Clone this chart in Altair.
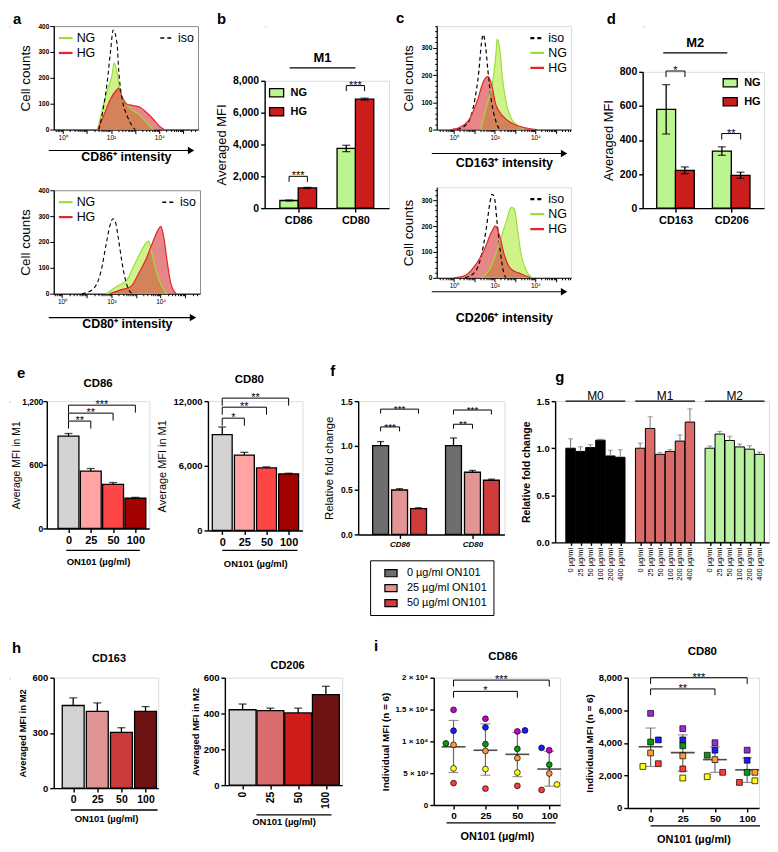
import math
import altair as alt
import pandas as pd

FONT = "Liberation Sans"

# ---------------- colours ----------------
NG_FILL, NG_LINE = "#cdf283", "#9bde3c"
HG_FILL, HG_LINE = "#d73b3b", "#e2262b"
NG_BAR, HG_BAR = "#baf590", "#cc1d1d"

# ---------------- a : histograms (x = log10 intensity) ----------------
A1_ISO_X = [1.5, 1.7, 1.84, 1.98, 2.09, 2.25, 2.32, 2.46, 2.66, 2.86, 3.0]
A1_ISO_Y = [0, 93, 182, 303, 385, 331, 227, 118, 55, 16, 0]
A1_NG_X = [1.45, 1.68, 1.84, 2.04, 2.13, 2.24, 2.38, 2.59, 2.86, 3.2, 3.47, 3.75]
A1_NG_Y = [0, 93, 150, 210, 258, 226, 145, 105, 78, 55, 27, 0]
A1_HG_X = [1.45, 1.7, 1.98, 2.22, 2.31, 2.46, 2.66, 2.93, 3.2, 3.47, 3.75, 4.0, 4.2]
A1_HG_Y = [0, 55, 118, 152, 160, 125, 98, 93, 86, 66, 40, 13, 0]

A2_ISO_X = [0.8, 1.22, 1.57, 1.79, 1.93, 2.07, 2.18, 2.28, 2.43, 2.57, 2.71, 2.85]
A2_ISO_Y = [0, 15, 83, 192, 259, 290, 272, 217, 122, 54, 14, 0]
A2_NG_X = [1.79, 2.2, 2.64, 2.92, 3.2, 3.42, 3.52, 3.63, 3.84, 4.06, 4.27]
A2_NG_Y = [0, 27, 54, 109, 163, 197, 204, 163, 82, 27, 0]
A2_HG_X = [1.93, 2.35, 2.78, 3.13, 3.42, 3.7, 3.89, 4.01, 4.13, 4.27, 4.41, 4.63]
A2_HG_Y = [0, 14, 27, 82, 136, 204, 245, 260, 218, 122, 41, 0]

# ---------------- c : histograms ----------------
C1_ISO_X = [0.16, 0.66, 0.99, 1.23, 1.35, 1.44, 1.56, 1.67, 1.84, 2.05, 2.22, 2.3]
C1_ISO_Y = [0, 22, 95, 217, 315, 349, 303, 217, 107, 34, 4, 0]
C1_NG_X = [1.31, 1.64, 1.89, 2.05, 2.13, 2.26, 2.38, 2.55, 2.79, 3.12, 3.45]
C1_NG_Y = [0, 95, 168, 266, 331, 290, 193, 107, 46, 15, 0]
C1_HG_X = [-0.16, 0.33, 0.82, 1.15, 1.48, 1.67, 1.84, 2.05, 2.3, 2.63, 3.12, 3.6, 4.1]
C1_HG_Y = [0, 10, 46, 107, 181, 195, 168, 95, 59, 34, 15, 5, 0]

C2_ISO_X = [0.55, 1.03, 1.35, 1.59, 1.75, 1.88, 1.99, 2.12, 2.28, 2.44, 2.55]
C2_ISO_Y = [0, 22, 87, 190, 280, 323, 310, 215, 100, 22, 0]
C2_NG_X = [1.35, 1.84, 2.24, 2.56, 2.83, 2.96, 3.12, 3.28, 3.52, 3.85]
C2_NG_Y = [0, 47, 137, 215, 272, 266, 189, 100, 35, 0]
C2_HG_X = [0.0, 0.55, 1.03, 1.51, 1.84, 2.04, 2.24, 2.48, 2.8, 3.28, 3.77]
C2_HG_Y = [0, 9, 47, 112, 176, 200, 164, 87, 35, 16, 0]

# ---------------- b / d : NG vs HG bars ----------------
B_MARKERS = ["CD86", "CD80"]
B_NG = [480, 3750]
B_NG_ERR = [30, 200]
B_HG = [1270, 6850]
B_HG_ERR = [35, 60]
B_SIG = ["***", "***"]
B_SIG_Y = [2000, 7700]

D_MARKERS = ["CD163", "CD206"]
D_NG = [580, 335]
D_NG_ERR = [145, 25]
D_HG = [222, 193]
D_HG_ERR = [20, 18]
D_SIG = ["*", "**"]
D_SIG_Y = [805, 438]

# ---------------- e : M1 MFI vs ON101 ----------------
E_DOSES = ["0", "25", "50", "100"]
E_COLORS = ["#d3d3d3", "#ffa3a3", "#ff4646", "#a30000"]
E_CD86 = [870, 540, 415, 285]
E_CD86_ERR = [25, 25, 18, 8]
E_CD86_SIG_TO = [1, 2, 3]
E_CD86_SIG_Y = [1012, 1087, 1162]
E_CD86_SIG = ["**", "**", "***"]
E_CD80 = [8900, 7000, 5800, 5250]
E_CD80_ERR = [700, 250, 100, 60]
E_CD80_SIG_TO = [1, 2, 3]
E_CD80_SIG_Y = [10420, 11440, 12280]
E_CD80_SIG = ["*", "**", "**"]

# ---------------- f : relative fold change ----------------
F_GENES = ["CD86", "CD80"]
F_DOSES = ["0 µg/ml ON101", "25 µg/ml ON101", "50 µg/ml ON101"]
F_COLORS = ["#6e6e6e", "#e39595", "#d03b3b"]
F_CD86 = [1.0, 0.5, 0.29]
F_CD86_ERR = [0.045, 0.015, 0.01]
F_CD80 = [1.0, 0.7, 0.61]
F_CD80_ERR = [0.085, 0.02, 0.012]
F_CD86_SIG = ["***", "***"]
F_CD86_SIG_Y = [1.21, 1.41]
F_CD80_SIG = ["**", "***"]
F_CD80_SIG_Y = [1.24, 1.40]

# ---------------- g : M0 / M1 / M2 fold change ----------------
G_GROUPS = ["M0", "M1", "M2"]
G_DOSES = ["0 µg/ml", "25 µg/ml", "50 µg/ml", "100 µg/ml", "200 µg/ml", "400 µg/ml"]
G_COLORS = ["#000000", "#d96b6b", "#b8f2a0"]
G_M0 = [1.0, 0.966, 1.007, 1.086, 0.918, 0.904]
G_M0_ERR = [0.10, 0.05, 0.03, 0.01, 0.06, 0.08]
G_M1 = [1.0, 1.21, 0.935, 0.966, 1.076, 1.278]
G_M1_ERR = [0.055, 0.125, 0.02, 0.02, 0.065, 0.14]
G_M2 = [1.0, 1.151, 1.082, 1.014, 0.99, 0.935]
G_M2_ERR = [0.024, 0.028, 0.045, 0.03, 0.037, 0.024]

# ---------------- h : M2 MFI vs ON101 ----------------
H_DOSES = ["0", "25", "50", "100"]
H1_COLORS = ["#d3d3d3", "#e09595", "#c93b3b", "#6e1313"]
H2_COLORS = ["#d3d3d3", "#d96c6c", "#d11c1c", "#6e1313"]
H_CD163 = [449, 417, 303, 417]
H_CD163_ERR = [41, 46, 25, 26]
H_CD206 = [421, 416, 403, 505]
H_CD206_ERR = [32, 14, 27, 47]

# ---------------- i : individual donors ----------------
I_DOSES = ["0", "25", "50", "100"]
I_DONORS = ["D1", "D2", "D3", "D4", "D5", "D6"]
I1_COLORS = ["#cc00cc", "#1a1aff", "#0a9a0a", "#ff9a3c", "#ffff1a", "#ff3b3b"]
I2_COLORS = ["#9b2bd9", "#1a1aff", "#0a9a0a", "#ff9a3c", "#ffff1a", "#ff3b3b"]
I1_D1 = [14950, 13550, 11560, 8600]
I1_D2 = [11670, 12200, 11720, 8980]
I1_D3 = [9680, 9570, 8820, 6340]
I1_D4 = [9450, 8490, 7370, 4950]
I1_D5 = [5750, 5650, 5110, 3230]
I1_D6 = [3440, 2580, 3010, 2370]
I1_SIDE = [[0, 0, 0, 0], [0, 0, 1, -1], [-1, 0, 0, 0], [0, 0, 0, 0], [0, 0, 0, 1], [0, 0, 0, -1]]
I1_MEAN = [9140, 8600, 7960, 5650]
I1_SD_LO = [5110, 4680, 4460, 2960]
I1_SD_HI = [13280, 12740, 11400, 8440]
I1_SIG = ["*", "***"]
I1_SIG_TO = [2, 3]
I1_SIG_Y = [17850, 19620]
I2_D1 = [5810, 4870, 4010, 3550]
I2_D2 = [4180, 4180, 3550, 2930]
I2_D3 = [4050, 3820, 3240, 2190]
I2_D4 = [3380, 3200, 2970, 2190]
I2_D5 = [2550, 1840, 1920, 1670]
I2_D6 = [2720, 2400, 2190, 1570]
I2_SIDE = [[0, 0, 0, 0], [1, 0, 0, 0], [0, 0, -1, 0], [0, 0, 0, 1], [-1, 0, -1, 1], [1, 0, 1, -1]]
I2_MEAN = [3760, 3400, 2970, 2340]
I2_SD_LO = [2550, 2260, 2190, 1570]
I2_SD_HI = [4910, 4490, 3760, 3070]
I2_SIG = ["**", "***"]
I2_SIG_TO = [2, 3]
I2_SIG_Y = [7310, 8000]

RECT = "M-1,-0.58L1,-0.58L1,0.58L-1,0.58Z"
ONE = pd.DataFrame({"v": [0]})
RES = dict(color="independent", fill="independent", stroke="independent", strokeDash="independent")


# ====================== helpers ======================
def ax(**kw):
    p = dict(domainColor="black", domainWidth=1.4, tickColor="black", tickWidth=1.4, tickSize=4,
             labelColor="black", labelFont=FONT, labelFontWeight="bold", labelFontSize=9,
             titleColor="black", titleFont=FONT, titleFontWeight="normal", titleFontSize=11,
             grid=False, labelFlush=False, labelOverlap=False, labelPadding=2)
    p.update(kw)
    if "values" in p:
        p["tickCount"] = len(p["values"])
    return alt.Axis(**p)


def arr_expr(labels):
    return "[" + ",".join("'%s'" % s for s in labels) + "]"


def cat_ax(labels, **kw):
    return ax(values=list(range(len(labels))), labelExpr=arr_expr(labels) + "[datum.value]", **kw)


def txt(t, x, y, fs=15, weight="bold", align="left"):
    return alt.Chart(pd.DataFrame({"t": [t]})).mark_text(
        fontSize=fs, fontWeight=weight, font=FONT, color="black", align=align, baseline="middle"
    ).encode(x=alt.value(x), y=alt.value(y), text="t:N")


def name(t, x, y, fs=11.5):
    return txt(t, x, y, fs=fs, align="center")


def spacer(w=1, h=1, letter=None):
    sp = alt.Chart(ONE).mark_point(size=0, opacity=0).encode(x=alt.value(0), y=alt.value(0))
    if letter is not None:
        sp = alt.layer(sp, txt(*letter))
    return sp.properties(width=w, height=h)


def hc(a, b, s):
    return alt.hconcat(a, b, spacing=s).resolve_scale(**RES)


def vc(a, b, s):
    return alt.vconcat(a, b, spacing=s).resolve_scale(**RES)


def log_ticks(lo, hi):
    out = []
    for n in range(math.floor(lo), math.ceil(hi) + 1):
        for k in range(1, 10):
            v = round(n + math.log10(k), 4)
            if lo <= v <= hi:
                out.append(v)
    return out


LOG_LABEL = "datum.value == 0 ? '10⁰' : datum.value == 2 ? '10²' : datum.value == 4 ? '10⁴' : ''"
MAJOR = "abs(datum.value - round(datum.value)) < 0.001"


def line_legend(orient, black=False):
    p = dict(title=None, orient=orient, offset=3, padding=1, labelFont=FONT, labelFontSize=12.5,
             labelColor="black", symbolStrokeWidth=2.2, symbolSize=190, rowPadding=0, labelOffset=3)
    if black:
        p["symbolStrokeColor"] = "black"
        p["symbolStrokeWidth"] = 1.5
    return alt.Legend(**p)


def histogram(iso, ng, hg, xdom, ytop, ystep, w, h, xtitle, mode, framed, extra=(), ypad=6,
              agap=21, xpad=11):
    rows = []
    for s, (xs, ys) in (("iso", iso), ("NG", ng), ("HG", hg)):
        rows += [{"s": s, "x": a, "y": b} for a, b in zip(xs, ys)]
    df = pd.DataFrame(rows)
    xv = log_ticks(*xdom)
    yv = list(range(0, ytop + 1, ystep))
    xax = alt.Axis(values=xv, tickCount=len(xv), labelExpr=LOG_LABEL, labelFontSize=6.5, labelFont=FONT,
                   labelColor="black", labelPadding=1, labelOverlap=False, labelFlush=False,
                   tickSize={"condition": {"test": MAJOR, "value": 4}, "value": 2},
                   tickColor="black", domainColor="black", tickWidth=1, domainWidth=1, grid=False,
                   title=xtitle, titleFont=FONT, titleFontSize=12.5, titleFontWeight="bold",
                   titleColor="black", titlePadding=xpad)
    yax = alt.Axis(values=yv, tickCount=len(yv),
                   labelExpr="datum.value % 100 == 0 ? datum.label : ''",
                   labelFontSize=6.5, labelFontWeight="bold", labelFont=FONT, labelColor="black",
                   labelPadding=1, labelOverlap=False,
                   tickSize={"condition": {"test": "datum.value % 100 == 0", "value": 4}, "value": 2},
                   tickColor="black", domainColor="black", tickWidth=1, domainWidth=1.2, grid=False,
                   title="Cell counts", titleFont=FONT, titleFontSize=13.5, titleFontWeight="normal",
                   titleColor="black", titlePadding=ypad)
    base = alt.Chart(df)
    enc = dict(x=alt.X("x:Q", scale=alt.Scale(domain=list(xdom), nice=False, zero=False), axis=xax),
               y=alt.Y("y:Q", scale=alt.Scale(domain=[0, ytop], nice=False), axis=yax))
    ng_area = base.transform_filter("datum.s == 'NG'").mark_area(
        interpolate="monotone", color=NG_FILL, opacity=0.95).encode(**enc)
    hg_area = base.transform_filter("datum.s == 'HG'").mark_area(
        interpolate="monotone", color=HG_FILL, opacity=0.62).encode(x="x:Q", y="y:Q")
    if mode == "split":
        lines = base.transform_filter("datum.s != 'iso'").mark_line(
            interpolate="monotone", strokeWidth=1.2).encode(
            x="x:Q", y="y:Q",
            stroke=alt.Stroke("s:N", scale=alt.Scale(domain=["NG", "HG"], range=[NG_LINE, HG_LINE]),
                              legend=line_legend("top-left")))
        iso_l = base.transform_filter("datum.s == 'iso'").mark_line(
            interpolate="monotone", color="black", strokeWidth=1.1).encode(
            x="x:Q", y="y:Q",
            strokeDash=alt.StrokeDash("s:N", scale=alt.Scale(domain=["iso"], range=[[4, 3]]),
                                      legend=line_legend("top-right", black=True)))
        layers = [ng_area, hg_area, lines, iso_l]
    else:
        dom = ["iso", "NG", "HG"]
        lines = base.mark_line(interpolate="monotone", strokeWidth=1.2).encode(
            x="x:Q", y="y:Q",
            stroke=alt.Stroke("s:N", scale=alt.Scale(domain=dom, range=["black", NG_LINE, HG_LINE]),
                              legend=line_legend("top-right")),
            strokeDash=alt.StrokeDash("s:N", scale=alt.Scale(domain=dom, range=[[4, 3], [1, 0], [1, 0]]),
                                      legend=line_legend("top-right")))
        layers = [ng_area, hg_area, lines]
    arrow = alt.Chart(ONE).mark_rule(color="black", strokeWidth=1.1).encode(
        x=alt.value(-5), x2=alt.value(w - 10), y=alt.value(h + agap))
    head = alt.Chart(ONE).mark_point(shape="triangle-right", filled=True, color="black",
                                     size=55, opacity=1).encode(x=alt.value(w - 7), y=alt.value(h + agap))
    props = dict(width=w, height=h)
    if framed:
        props["view"] = alt.ViewBackground(stroke="#8c8c8c", strokeWidth=1)
    return alt.layer(*layers, arrow, head, *extra).properties(**props)


def grouped_df(n_cats, series, spread):
    rows = []
    k = len(series)
    for ci in range(n_cats):
        for si, (nm, vals, errs) in enumerate(series):
            rows.append({"x": ci + (si - (k - 1) / 2) * spread, "m": vals[ci],
                         "lo": vals[ci] - errs[ci], "hi": vals[ci] + errs[ci], "c": nm})
    return pd.DataFrame(rows)


def single_df(cats, vals, errs):
    return pd.DataFrame({"x": list(range(len(cats))), "m": vals,
                         "lo": [v - e for v, e in zip(vals, errs)],
                         "hi": [v + e for v, e in zip(vals, errs)], "c": cats})


def bar_layers(df, xdom, ydom, xax, yax, color, size, cap, both=False, ecol="black", bw=1.3, ew=1.3):
    x = alt.X("x:Q", scale=alt.Scale(domain=list(xdom), nice=False, zero=False), axis=xax)
    y = alt.Y("m:Q", scale=alt.Scale(domain=list(ydom), nice=False), axis=yax)
    out = [alt.Chart(df).mark_bar(size=size, stroke="black", strokeWidth=bw, orient="vertical").encode(
        x=x, y=y, color=color)]
    out.append(alt.Chart(df).mark_rule(color=ecol, strokeWidth=ew).encode(
        x="x:Q", y=("lo:Q" if both else "m:Q"), y2="hi:Q"))
    out.append(alt.Chart(df).mark_tick(orient="horizontal", size=cap, thickness=ew, color=ecol).encode(
        x="x:Q", y="hi:Q"))
    if both:
        out.append(alt.Chart(df).mark_tick(orient="horizontal", size=cap, thickness=ew, color=ecol).encode(
            x="x:Q", y="lo:Q"))
    return out


def brackets(rows, leg, fs=11):
    pts, labs = [], []
    for k, (x1, x2, y, t) in enumerate(rows):
        for o, (xx, yy) in enumerate(((x1, y - leg), (x1, y), (x2, y), (x2, y - leg))):
            pts.append({"id": k, "o": o, "x": xx, "y": yy})
        labs.append({"x": (x1 + x2) / 2, "y": y, "t": t})
    ln = alt.Chart(pd.DataFrame(pts)).mark_line(color="black", strokeWidth=1).encode(
        x="x:Q", y="y:Q", detail="id:N", order="o:Q")
    tx = alt.Chart(pd.DataFrame(labs)).mark_text(baseline="alphabetic", dy=3, fontSize=fs, font=FONT,
                                                 color="black").encode(x="x:Q", y="y:Q", text="t:N")
    return [ln, tx]


def header(texts, x0s, x1s, y, fs, weight="bold", dy=-3):
    d = pd.DataFrame({"a": x0s, "b": x1s, "y": [y] * len(texts),
                      "c": [(p + q) / 2 for p, q in zip(x0s, x1s)], "t": texts})
    return [alt.Chart(d).mark_rule(color="black", strokeWidth=1.3).encode(x="a:Q", x2="b:Q", y="y:Q"),
            alt.Chart(d).mark_text(baseline="alphabetic", dy=dy, fontSize=fs, fontWeight=weight, font=FONT,
                                   color="black").encode(x="c:Q", y="y:Q", text="t:N")]


def underline(x0, x1, ypx):
    d = pd.DataFrame({"a": [x0], "b": [x1]})
    return alt.Chart(d).mark_rule(color="black", strokeWidth=1.3).encode(x="a:Q", x2="b:Q", y=alt.value(ypx))


def box_legend(orient, fs, **kw):
    p = dict(title=None, orient=orient, labelFont=FONT, labelFontSize=fs, labelFontWeight="bold",
             labelColor="black", symbolType=RECT, symbolSize=200, symbolStrokeColor="black",
             symbolStrokeWidth=1.3, rowPadding=4, padding=0, labelOffset=6)
    p.update(kw)
    return alt.Legend(**p)


# ====================== panels ======================
a1 = histogram((A1_ISO_X, A1_ISO_Y), (A1_NG_X, A1_NG_Y), (A1_HG_X, A1_HG_Y), (-0.37, 5.6), 400, 100,
               145, 104, "CD86⁺ intensity", "split", True, extra=[txt("a", -41, -7)], xpad=10)
a2 = histogram((A2_ISO_X, A2_ISO_Y), (A2_NG_X, A2_NG_Y), (A2_HG_X, A2_HG_Y), (-0.34, 5.6), 400, 100,
               147, 104, "CD80⁺ intensity", "split", True, agap=24, xpad=12)
c1 = histogram((C1_ISO_X, C1_ISO_Y), (C1_NG_X, C1_NG_Y), (C1_HG_X, C1_HG_Y), (-0.84, 5.75), 380, 20,
               135, 104, "CD163⁺ intensity", "stack", False, extra=[txt("c", -41, -8)], agap=24, xpad=16)
c2 = histogram((C2_ISO_X, C2_ISO_Y), (C2_NG_X, C2_NG_Y), (C2_HG_X, C2_HG_Y), (-0.84, 5.75), 350, 20,
               135, 91, "CD206⁺ intensity", "stack", False, agap=14, xpad=22)

# b
b_df = grouped_df(2, [("NG", B_NG, B_NG_ERR), ("HG", B_HG, B_HG_ERR)], 0.32)
b_color = alt.Color("c:N", scale=alt.Scale(domain=["NG", "HG"], range=[NG_BAR, HG_BAR]),
                    legend=box_legend("top-left", 11, offset=4))
b_layers = bar_layers(b_df, (-0.5, 1.5), (0, 8000), cat_ax(B_MARKERS, labelFontSize=11, title=None),
                      ax(values=[0, 2000, 4000, 6000, 8000], format=",.0f", labelFontSize=10.5,
                         title="Averaged MFI", titleFontSize=13, titlePadding=4),
                      b_color, 18.5, 8, both=True)
b_layers += brackets([(i - 0.16, i + 0.16, B_SIG_Y[i], B_SIG[i]) for i in range(2)], 350)
b_layers += header(["M1"], [-0.15], [1.0], 8810, 13, dy=-6)
b = alt.layer(*b_layers).properties(width=125, height=128)

# d
d_df = grouped_df(2, [("NG", D_NG, D_NG_ERR), ("HG", D_HG, D_HG_ERR)], 0.335)
d_color = alt.Color("c:N", scale=alt.Scale(domain=["NG", "HG"], range=[NG_BAR, HG_BAR]),
                    legend=box_legend("top-right", 11, offset=3))
d_layers = bar_layers(d_df, (-0.5, 1.5), (0, 800), cat_ax(D_MARKERS, labelFontSize=11, title=None),
                      ax(values=[0, 200, 400, 600, 800], format=".0f", labelFontSize=10.5,
                         title="Averaged MFI", titleFontSize=13, titlePadding=4),
                      d_color, 19, 8, both=True)
d_layers += brackets([(i - 0.17, i + 0.17, D_SIG_Y[i], D_SIG[i]) for i in range(2)], 35)
d_layers += header(["M2"], [-0.22], [0.93], 911, 13, dy=-6)
d = alt.layer(*d_layers).properties(width=122, height=137)

# e
e_color = alt.Color("c:N", scale=alt.Scale(domain=E_DOSES, range=E_COLORS), legend=None)
on_title = dict(title="ON101 (µg/ml)", titleFontWeight="bold", titleFontSize=9.5)
E1_W, E1_H, E2_W, E2_H = 103, 128, 95, 130
e1_layers = bar_layers(single_df(E_DOSES, E_CD86, E_CD86_ERR), (-0.75, 3.4), (0, 1200),
                       cat_ax(E_DOSES, labelFontSize=11, titlePadding=11, **on_title),
                       ax(values=[0, 600, 1200], format=",.0f", labelFontSize=8.5, labelPadding=0,
                          title="Average MFI in M1", titleFontSize=10.5, titlePadding=0),
                       e_color, 21, 8)
e1_layers += brackets([(0, E_CD86_SIG_TO[i], E_CD86_SIG_Y[i], E_CD86_SIG[i]) for i in range(3)], 70)
e1_layers += [underline(-0.1, 3.2, E1_H + 22), txt("e", -30, -28), name("CD86", E1_W / 2, -17)]
e1 = alt.layer(*e1_layers).properties(width=E1_W, height=E1_H)

e2_layers = bar_layers(single_df(E_DOSES, E_CD80, E_CD80_ERR), (-0.42, 3.4), (0, 12000),
                       cat_ax(E_DOSES, labelFontSize=11, titlePadding=11, **on_title),
                       ax(values=[0, 6000, 12000], format=",.0f", labelFontSize=9.5,
                          title="Average MFI in M1", titlePadding=6),
                       e_color, 20, 8)
e2_layers += brackets([(0, E_CD80_SIG_TO[i], E_CD80_SIG_Y[i], E_CD80_SIG[i]) for i in range(3)], 700)
e2_layers += [underline(0, 3.4, E2_H + 20), name("CD80", E2_W / 2 - 6, -21)]
e2 = alt.layer(*e2_layers).properties(width=E2_W, height=E2_H)

# f
f_df = grouped_df(2, [(F_DOSES[k], [F_CD86[k], F_CD80[k]], [F_CD86_ERR[k], F_CD80_ERR[k]])
                      for k in range(3)], 0.26)
F_W, F_H = 147, 134
f_color = alt.Color("c:N", scale=alt.Scale(domain=F_DOSES, range=F_COLORS),
                    legend=alt.Legend(title=None, orient="none", legendX=12, legendY=F_H + 26,
                                      direction="vertical", strokeColor="black", padding=6,
                                      labelFont=FONT, labelFontSize=11, labelColor="black",
                                      symbolType=RECT, symbolSize=150, symbolStrokeColor="black",
                                      symbolStrokeWidth=1.2, rowPadding=2, labelOffset=9,
                                      symbolOffset=8))
f_layers = bar_layers(f_df, (-0.5, 1.37), (0, 1.5),
                      cat_ax(F_GENES, labelFontSize=8, labelFontStyle="italic", title=None),
                      ax(values=[0, 0.5, 1.0, 1.5], format=".1f", labelFontSize=8.5,
                         title="Relative fold change", titleFontSize=11.5, titlePadding=6),
                      f_color, 16, 7)
f_sig = []
for gi, (sig, ys) in enumerate(((F_CD86_SIG, F_CD86_SIG_Y), (F_CD80_SIG, F_CD80_SIG_Y))):
    for k in range(2):
        f_sig.append((gi - 0.26, gi + k * 0.26, ys[k], sig[k]))
f_layers += brackets(f_sig, 0.05, fs=10)
f_layers += [txt("f", -28, -30)]
f = alt.layer(*f_layers).properties(width=F_W, height=F_H)

# g
g_series = [G_M0, G_M1, G_M2]
g_errs = [G_M0_ERR, G_M1_ERR, G_M2_ERR]
g_rows = []
for gi in range(3):
    for di in range(6):
        v, e = g_series[gi][di], g_errs[gi][di]
        g_rows.append({"x": gi * 7 + di, "m": v, "lo": v - e, "hi": v + e, "c": G_GROUPS[gi]})
g_df = pd.DataFrame(g_rows)
g_color = alt.Color("c:N", scale=alt.Scale(domain=G_GROUPS, range=G_COLORS), legend=None)
g_xax = ax(values=[gi * 7 + di for gi in range(3) for di in range(6)],
           labelExpr=arr_expr(G_DOSES + [""]) + "[datum.value % 7]", labelAngle=270,
           labelFontSize=7.5, labelFontWeight="normal", tickSize=3, title=None)
g_layers = bar_layers(g_df, (-1.05, 19.45), (0, 1.5), g_xax,
                      ax(values=[0, 0.5, 1.0, 1.5], format=".1f", labelFontSize=9.5,
                         title="Relative fold change", titleFontWeight="bold", titleFontSize=10.5,
                         titlePadding=5),
                      g_color, 9.5, 5, ecol="#808080", bw=1, ew=1.1)
g_layers += header(G_GROUPS, [gi * 7 - 0.5 for gi in range(3)], [gi * 7 + 5.5 for gi in range(3)],
                   1.5, 12, weight="normal", dy=-1)
g_layers += [txt("g", 0, -24)]
g = alt.layer(*g_layers).properties(width=215, height=142)

# h
h1_color = alt.Color("c:N", scale=alt.Scale(domain=H_DOSES, range=H1_COLORS), legend=None)
h2_color = alt.Color("c:N", scale=alt.Scale(domain=H_DOSES, range=H2_COLORS), legend=None)
h_on = dict(title="ON101 (µg/ml)", titleFontWeight="bold", titleFontSize=9.5)
H1_W, H1_H, H2_W, H2_H = 105, 111, 118, 108
h1_layers = bar_layers(single_df(H_DOSES, H_CD163, H_CD163_ERR), (-0.6, 3.32), (0, 600),
                       cat_ax(H_DOSES, labelFontSize=10.5, titlePadding=9, **h_on),
                       ax(values=[0, 300, 600], labelFontSize=9.5, title="Averaged MFI in M2",
                          titleFontWeight="bold", titleFontSize=9.5, titlePadding=5),
                       h1_color, 22, 8)
h1_layers += [underline(-0.1, 3.5, H1_H + 22), txt("h", -42, -30), name("CD163", H1_W / 2 + 3, -19, 11)]
h1 = alt.layer(*h1_layers).properties(width=H1_W, height=H1_H)

h2_layers = bar_layers(single_df(H_DOSES, H_CD206, H_CD206_ERR), (-0.46, 3.41), (0, 600),
                       cat_ax(H_DOSES, labelFontSize=10.5, labelAngle=270, titlePadding=8, **h_on),
                       ax(values=[0, 200, 400, 600], labelFontSize=9.5, title="Averaged MFI in M2",
                          titleFontWeight="bold", titleFontSize=9.5, titlePadding=3),
                       h2_color, 27, 8)
h2_layers += [underline(0.5, 3.2, H2_H + 30), name("CD206", H2_W / 2 + 4, -12, 11)]
h2 = alt.layer(*h2_layers).properties(width=H2_W, height=H2_H)


# i
def scatter_panel(donor_vals, sides, colors, mean, lo, hi, shape, xdom, ydom, yax, sig, sig_to, sig_y,
                  leg, w, h, ul, extra):
    rows = []
    for di, vals in enumerate(donor_vals):
        for k, v in enumerate(vals):
            rows.append({"x": k + sides[di][k] * 0.24, "y": v, "donor": I_DONORS[di]})
    pts = pd.DataFrame(rows)
    st = pd.DataFrame({"x": list(range(4)), "m": mean, "lo": lo, "hi": hi})
    x = alt.X("x:Q", scale=alt.Scale(domain=list(xdom), nice=False, zero=False),
              axis=cat_ax(I_DOSES, labelFontSize=10, title="ON101 (µg/ml)", titleFontWeight="bold",
                          titleFontSize=11, titlePadding=10))
    sd = alt.Chart(st).mark_rule(color="#6a6a6a", strokeWidth=1.2).encode(
        x=x, y=alt.Y("lo:Q", scale=alt.Scale(domain=list(ydom), nice=False), axis=yax), y2="hi:Q")
    caps = [alt.Chart(st).mark_tick(orient="horizontal", size=10, thickness=1.2, color="#6a6a6a").encode(
        x="x:Q", y=f"{f}:Q") for f in ("lo", "hi")]
    mtick = alt.Chart(st).mark_tick(orient="horizontal", size=24, thickness=1.6, color="black").encode(
        x="x:Q", y="m:Q")
    p = alt.Chart(pts).mark_point(shape=shape, filled=True, size=34, stroke="black", strokeWidth=0.7,
                                  opacity=1).encode(
        x="x:Q", y="y:Q",
        fill=alt.Fill("donor:N", scale=alt.Scale(domain=I_DONORS, range=colors), legend=None))
    layers = [sd, *caps, mtick, p]
    layers += brackets([(0, sig_to[i], sig_y[i], sig[i]) for i in range(len(sig))], leg)
    layers += [underline(ul[0], ul[1], h + 18)] + extra
    return alt.layer(*layers).properties(width=w, height=h)


I1_LABELS = ("datum.value == 0 ? '0' : datum.value == 5000 ? '5 × 10³' : datum.value == 10000 ? "
             "'1 × 10⁴' : datum.value == 15000 ? '1.5 × 10⁴' : '2 × 10⁴'")
I1_W, I1_H, I2_W, I2_H = 127, 128, 132, 131
i1 = scatter_panel([I1_D1, I1_D2, I1_D3, I1_D4, I1_D5, I1_D6], I1_SIDE, I1_COLORS, I1_MEAN, I1_SD_LO,
                   I1_SD_HI, "circle", (-0.62, 3.34), (0, 20000),
                   ax(values=[0, 5000, 10000, 15000, 20000], labelExpr=I1_LABELS, labelFontSize=8,
                      title="Individual MFI (n = 6)", titleFontWeight="bold", titleFontSize=10,
                      titlePadding=4),
                   I1_SIG, I1_SIG_TO, I1_SIG_Y, 1000, I1_W, I1_H, (-0.22, 3.2),
                   [txt("i", -60, -32), name("CD86", I1_W / 2 + 6, -21)])
i2 = scatter_panel([I2_D1, I2_D2, I2_D3, I2_D4, I2_D5, I2_D6], I2_SIDE, I2_COLORS, I2_MEAN, I2_SD_LO,
                   I2_SD_HI, "square", (-0.71, 3.37), (0, 8000),
                   ax(values=[0, 2000, 4000, 6000, 8000], format=",.0f", labelFontSize=9.5,
                      title="Individual MFI (n = 6)", titleFontWeight="bold", titleFontSize=10,
                      titlePadding=4),
                   I2_SIG, I2_SIG_TO, I2_SIG_Y, 380, I2_W, I2_H, (0, 3.4),
                   [name("CD80", I2_W / 2 + 9, -26)])

# ====================== layout ======================
a_col = vc(a1, a2, 22)
b_col = vc(spacer(letter=("b", -48, -7)), b, 23)
c_col = vc(c1, c2, 16)
d_col = vc(spacer(letter=("d", -36, -7)), d, 8)

row1 = hc(spacer(), a_col, 1)
row1 = hc(row1, b_col, 14)
row1 = hc(row1, c_col, 5)
row1 = hc(row1, d_col, 29)

row2 = hc(spacer(), e1, 0)
row2 = hc(row2, e2, 5)
row2 = hc(row2, f, 19)
row2 = hc(row2, g, 15)

row3 = hc(spacer(), h1, 0)
row3 = hc(row3, h2, 30)
row3 = hc(row3, i1, 30)
row3 = hc(row3, i2, 21)

chart = vc(vc(row1, row2, 33), row3, 22).properties(
    padding=0, background="white"
).configure_view(stroke=None).configure(font=FONT).configure_axis(labelOverlap=False)

chart.save("out.html", embed_options={"renderer": "svg", "actions": False})
